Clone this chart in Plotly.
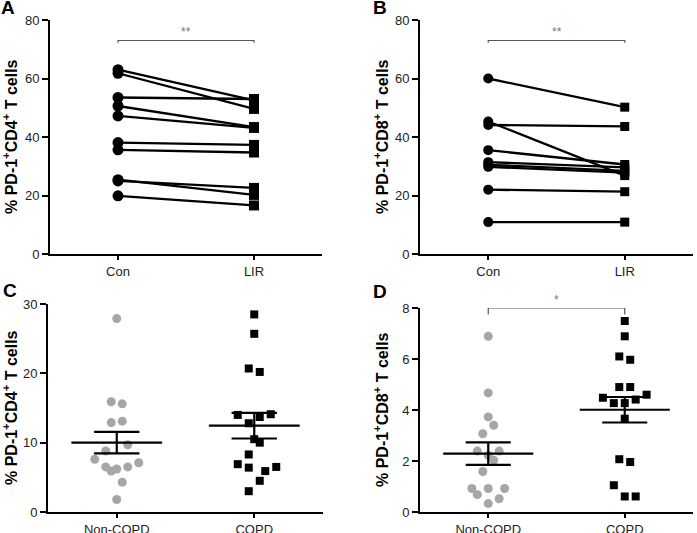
import plotly.graph_objects as go

# ---------------- data ----------------
pair_categories = ["Con", "LIR"]
group_categories = ["Non-COPD", "COPD"]

# Panel A: paired PD-1+CD4+ (%)
a_con = [63.0, 61.8, 53.5, 50.6, 47.2, 38.1, 35.6, 25.4, 25.0, 19.9]
a_lir = [52.5, 49.6, 53.0, 43.4, 43.1, 37.3, 34.7, 20.2, 22.6, 16.6]

# Panel B: paired PD-1+CD8+ (%)
b_con = [60.0, 45.3, 44.1, 35.5, 31.4, 30.5, 29.8, 22.0, 10.9]
b_lir = [50.2, 26.8, 43.6, 30.6, 29.6, 28.4, 27.8, 21.3, 10.9]

# Panel C: PD-1+CD4+ (%) by group
c_non = [27.9, 15.9, 15.6, 12.9, 13.1, 9.7, 8.8, 7.6, 7.1, 6.5, 6.2, 6.5, 5.9, 4.3, 1.8]
c_non_jit = [0, -1, 1, -1, 1, 2, -2, -4, 4, -2, 0, 2, -1, 1, 0]
c_copd = [28.5, 25.7, 20.7, 20.2, 14.0, 14.1, 13.7, 12.8, 10.5, 10.0, 8.3, 6.9, 6.4, 5.9, 6.5, 4.5, 3.0]
c_copd_jit = [0, 0, -1, 1, -3, 3, 1, -1, 0, 1, -1, -3, -1, 2, 4, 1, -1]
c_mean = [10.0, 12.45]
c_sem = [1.55, 1.85]

# Panel D: PD-1+CD8+ (%) by group
d_non = [6.89, 4.67, 3.73, 3.40, 3.07, 2.39, 2.39, 2.22, 2.03, 1.59, 0.92, 0.92, 0.92, 0.68, 0.52, 0.33]
d_non_jit = [0, 0, 0, 1, -1, -2, 2, 0, 1, -1, -3, 0, 3, -2, 2, 0]
d_copd = [7.49, 6.89, 6.10, 5.97, 4.90, 4.90, 4.48, 4.60, 4.27, 4.27, 4.41, 3.66, 2.07, 1.96, 1.05, 0.61, 0.61]
d_copd_jit = [0, 0, -1, 1, -1, 1, -4, 4, -2, 0, 2, 0, -1, 1, -2, 0, 2]
d_mean = [2.29, 4.01]
d_sem = [0.44, 0.50]

# significance brackets (y-level, label)
sig_a = (73.0, "**")
sig_b = (73.0, "**")
sig_d = (8.0, "*")

y_ticks_ab = [0, 20, 40, 60, 80]
y_ticks_c = [0, 10, 20, 30]
y_ticks_d = [0, 2, 4, 6, 8]

title_cd4 = "<b>% PD-1<sup>+</sup>CD4<sup>+</sup> T cells</b>"
title_cd8 = "<b>% PD-1<sup>+</sup>CD8<sup>+</sup> T cells</b>"

# ---------------- figure ----------------
W, H = 697, 533
fig = go.Figure()
FONT = "Liberation Sans, Arial, sans-serif"
GRAY = "#a6a6a6"
JSTEP = 0.04

def add_pairs(con, lir, xa, ya, msize):
    for c, l in zip(con, lir):
        fig.add_trace(go.Scatter(x=[0, 1], y=[c, l], xaxis=xa, yaxis=ya, mode="lines",
                                 line=dict(color="black", width=2.3), showlegend=False,
                                 hoverinfo="skip"))
    fig.add_trace(go.Scatter(x=[0] * len(con), y=con, xaxis=xa, yaxis=ya, mode="markers",
                             marker=dict(symbol="circle", size=msize, color="black"),
                             showlegend=False, cliponaxis=False))
    fig.add_trace(go.Scatter(x=[1] * len(lir), y=lir, xaxis=xa, yaxis=ya, mode="markers",
                             marker=dict(symbol="square", size=msize - 1, color="black"),
                             showlegend=False, cliponaxis=False))

add_pairs(a_con, a_lir, "x", "y", 11)
add_pairs(b_con, b_lir, "x2", "y2", 10)

def add_groups(non, nj, copd, cj, mean, sem, xa, ya):
    fig.add_trace(go.Scatter(x=[0 + j * JSTEP for j in nj], y=non, xaxis=xa, yaxis=ya,
                             mode="markers", marker=dict(symbol="circle", size=9, color=GRAY),
                             showlegend=False, cliponaxis=False))
    fig.add_trace(go.Scatter(x=[1 + j * JSTEP for j in cj], y=copd, xaxis=xa, yaxis=ya,
                             mode="markers", marker=dict(symbol="square", size=8, color="black"),
                             showlegend=False, cliponaxis=False))
    for i, (m, s) in enumerate(zip(mean, sem)):
        xs = [i - 0.33, i + 0.33, None, i - 0.165, i + 0.165, None, i - 0.165, i + 0.165, None, i, i]
        ys = [m, m, None, m + s, m + s, None, m - s, m - s, None, m - s, m + s]
        fig.add_trace(go.Scatter(x=xs, y=ys, xaxis=xa, yaxis=ya, mode="lines",
                                 line=dict(color="black", width=2.2), showlegend=False,
                                 hoverinfo="skip"))

add_groups(c_non, c_non_jit, c_copd, c_copd_jit, c_mean, c_sem, "x3", "y3")
add_groups(d_non, d_non_jit, d_copd, d_copd_jit, d_mean, d_sem, "x4", "y4")

def xaxis(domain, ticktext, anchor):
    return dict(domain=domain, range=[-0.5, 1.5], tickvals=[0, 1], ticktext=ticktext,
                showline=True, linecolor="black", linewidth=2, ticks="outside", ticklen=4,
                tickwidth=2, tickcolor="black", showgrid=False, zeroline=False, automargin=False,
                anchor=anchor, tickfont=dict(family=FONT, size=13, color="#222"), fixedrange=True)

def yaxis(domain, rng, tickvals, anchor):
    return dict(domain=domain, range=rng, tickvals=tickvals, showline=True, linecolor="black",
                linewidth=2, ticks="outside", ticklen=6, tickwidth=2, tickcolor="black",
                showgrid=False, zeroline=False, anchor=anchor, automargin=False,
                tickfont=dict(family=FONT, size=13, color="#222"), fixedrange=True)

def px(v):
    return v / W

def py(v):
    return 1 - v / H

fig.update_layout(
    width=W, height=H, margin=dict(l=0, r=0, t=0, b=0, autoexpand=False),
    paper_bgcolor="white", plot_bgcolor="white",
    xaxis=xaxis([px(50), px(322)], pair_categories, "y"),
    yaxis=yaxis([py(254), py(20)], [0, 80], y_ticks_ab, "x"),
    xaxis2=xaxis([px(420), px(693)], pair_categories, "y2"),
    yaxis2=yaxis([py(254), py(20)], [0, 80], y_ticks_ab, "x2"),
    xaxis3=xaxis([px(48), px(323)], group_categories, "y3"),
    yaxis3=yaxis([py(512), py(304)], [0, 30], y_ticks_c, "x3"),
    xaxis4=xaxis([px(420), px(693)], group_categories, "y4"),
    yaxis4=yaxis([py(512), py(308)], [0, 8], y_ticks_d, "x4"),
)

# y-axis titles
for text, x, y in [(title_cd4, 10, 137), (title_cd8, 381, 137),
                   (title_cd4, 10, 408), (title_cd8, 381, 410)]:
    fig.add_annotation(x=px(x), y=py(y), xref="paper", yref="paper", text=text,
                       textangle=-90, showarrow=False, xanchor="center", yanchor="middle",
                       font=dict(family=FONT, size=16, color="black"))

# significance brackets
def bracket(xa, ya, level, label, drop):
    fig.add_shape(type="path", xref=xa, yref=ya,
                  path=f"M 0,{level - drop} L 0,{level} L 1,{level} L 1,{level - drop}",
                  line=dict(color="#555", width=1.2))
    fig.add_annotation(x=0.5, y=level, xref=xa, yref=ya, text=label, showarrow=False,
                       yanchor="bottom", yshift=-1, font=dict(family=FONT, size=12, color="#777"))

bracket("x", "y", sig_a[0], sig_a[1], 0.8)
bracket("x2", "y2", sig_b[0], sig_b[1], 0.8)
bracket("x4", "y4", sig_d[0], sig_d[1], 0.25)

# panel letters
for letter, x, y in [("A", 8, 8), ("B", 380, 8), ("C", 10, 290), ("D", 380, 291)]:
    fig.add_annotation(x=px(x), y=py(y), xref="paper", yref="paper", text=f"<b>{letter}</b>",
                       showarrow=False, xanchor="center", yanchor="middle",
                       font=dict(family=FONT, size=19, color="black"))

fig.write_html("out.html", config={"displayModeBar": False, "staticPlot": True},
               post_script="document.body.style.margin='0px';document.body.style.overflow='hidden';")
